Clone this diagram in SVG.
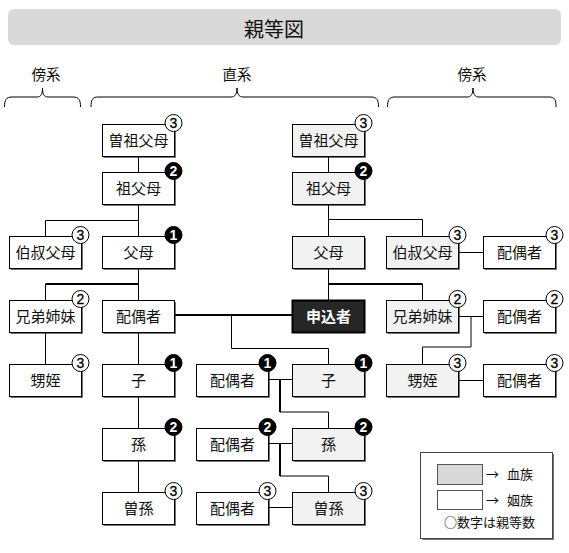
<svg xmlns="http://www.w3.org/2000/svg" width="569" height="553" viewBox="0 0 569 553">
<style>
.box{fill:#fff;stroke:#000;stroke-width:1}
.blood{fill:#f2f2f2}
.self{fill:#262626;stroke:#000;stroke-width:2}
.sh{fill:none;stroke:#000;stroke-width:1;opacity:.55}
.t{font-family:"Noto Sans CJK JP",sans-serif;font-size:15px;text-anchor:middle;fill:#111}
.ts{font-family:"Noto Sans CJK JP",sans-serif;font-size:15px;font-weight:bold;text-anchor:middle;fill:#fff}
.bf{fill:#000;stroke:#000;stroke-width:1}
.bo{fill:#fff;stroke:#000;stroke-width:1}
.nf{font-family:"Liberation Sans",Arial,sans-serif;font-size:14px;font-weight:bold;text-anchor:middle;fill:#fff}
.no{font-family:"Liberation Sans",Arial,sans-serif;font-size:14px;text-anchor:middle;fill:#000;stroke:#000;stroke-width:.3}
.c{fill:none;stroke:#000;stroke-width:1}
.ck{fill:none;stroke:#000;stroke-width:2}
.lbl{font-family:"Noto Sans CJK JP",sans-serif;font-size:14.5px;text-anchor:middle;fill:#111}
.lg{font-family:"Noto Sans CJK JP",sans-serif;font-size:13px;fill:#111}
</style>
<rect x="8" y="9" width="553" height="36" rx="6" fill="#d9d9d9"/>
<text x="274" y="37" font-family="'Noto Sans CJK JP',sans-serif" font-size="20" text-anchor="middle" fill="#111">親等図</text>
<g id="brackets">
<text class="lbl" x="46" y="80">傍系</text>
<text class="lbl" x="237" y="80">直系</text>
<text class="lbl" x="472" y="80">傍系</text>
<path class="c" d="M4.5,107 C4.5,100 6,97 12,97 H37 C41,97 42.5,94 42.5,88 C42.5,94 44,97 48,97 H73 C79,97 80.5,100 80.5,107"/>
<path class="c" d="M91,107 C91,100 92.5,97 98,97 H231 C235,97 237,94 237,88 C237,94 239,97 243,97 H371 C377,97 378.5,100 378.5,107"/>
<path class="c" d="M387.5,107 C387.5,100 389,97 395,97 H467 C471,97 473,94 473,88 C473,94 475,97 479,97 H549 C555,97 556,100 556,107"/>
</g>
<g id="connectors">
<path class="c" d="M138.5,156.5 V172.5 M138.5,204.5 V236.5 M45.5,236.5 V220.5 H138.5 M138.5,268.5 V300.5 M45.5,284 V300.5 M45.5,332.5 V364.5 M138.5,332.5 V364.5 M138.5,396.5 V428.5 M138.5,460.5 V492.5"/>
<path class="ck" d="M45.5,284 H138.5 M174.5,315 H292"/>
<path class="c" d="M231.5,315 V348.5 H328.5 V364.5"/>
<path class="c" d="M328.5,156.5 V172.5 M328.5,204.5 V236.5 M328.5,219.5 H422.5 V236.5 M328.5,268.5 V300.5 M422.5,284 V300.5"/>
<path class="ck" d="M328.5,284 H422.5"/>
<path class="c" d="M458.5,252.5 H483.5 M458.5,316.5 H483.5 M471,316.5 V347 H422.5 V364.5 M458.5,380.5 H483.5"/>
<path class="c" d="M268.5,379.5 H292.5 M280,412 H328.5 V428.5 M268.5,443.5 H292.5 M280,476 H328.5 V492.5 M268.5,507.5 H292.5"/>
<path class="ck" d="M280,379 V412 M280,443 V476"/>
</g>
<g id="n-sosofubo-l"><path class="sh" d="M103.5,157.5 H175.5 V126"/><rect class="box" x="102.5" y="124.5" width="72" height="32"/><text class="t" x="138.5" y="146">曽祖父母</text><circle class="bo" cx="173.5" cy="123" r="8.5"/><text class="no" x="173.5" y="128">3</text></g>
<g id="n-sofubo-l"><path class="sh" d="M103.5,205.5 H175.5 V174"/><rect class="box" x="102.5" y="172.5" width="72" height="32"/><text class="t" x="138.5" y="194">祖父母</text><circle class="bf" cx="173.5" cy="171" r="8.5"/><text class="nf" x="173.5" y="176">2</text></g>
<g id="n-hakushuku-l"><path class="sh" d="M10.5,269.5 H82.5 V238"/><rect class="box" x="9.5" y="236.5" width="72" height="32"/><text class="t" x="45.5" y="258">伯叔父母</text><circle class="bo" cx="80.5" cy="235" r="8.5"/><text class="no" x="80.5" y="240">3</text></g>
<g id="n-fubo-l"><path class="sh" d="M103.5,269.5 H175.5 V238"/><rect class="box" x="102.5" y="236.5" width="72" height="32"/><text class="t" x="138.5" y="258">父母</text><circle class="bf" cx="173.5" cy="235" r="8.5"/><text class="nf" x="173.5" y="240">1</text></g>
<g id="n-kyodai-l"><path class="sh" d="M10.5,333.5 H82.5 V302"/><rect class="box" x="9.5" y="300.5" width="72" height="32"/><text class="t" x="45.5" y="322">兄弟姉妹</text><circle class="bo" cx="80.5" cy="299" r="8.5"/><text class="no" x="80.5" y="304">2</text></g>
<g id="n-haigusha-l"><path class="sh" d="M103.5,333.5 H175.5 V302"/><rect class="box" x="102.5" y="300.5" width="72" height="32"/><text class="t" x="138.5" y="322">配偶者</text></g>
<g id="n-oimei-l"><path class="sh" d="M10.5,397.5 H82.5 V366"/><rect class="box" x="9.5" y="364.5" width="72" height="32"/><text class="t" x="45.5" y="386">甥姪</text><circle class="bo" cx="80.5" cy="363" r="8.5"/><text class="no" x="80.5" y="368">3</text></g>
<g id="n-ko-l"><path class="sh" d="M103.5,397.5 H175.5 V366"/><rect class="box" x="102.5" y="364.5" width="72" height="32"/><text class="t" x="138.5" y="386">子</text><circle class="bf" cx="173.5" cy="363" r="8.5"/><text class="nf" x="173.5" y="368">1</text></g>
<g id="n-mago-l"><path class="sh" d="M103.5,461.5 H175.5 V430"/><rect class="box" x="102.5" y="428.5" width="72" height="32"/><text class="t" x="138.5" y="450">孫</text><circle class="bf" cx="173.5" cy="427" r="8.5"/><text class="nf" x="173.5" y="432">2</text></g>
<g id="n-himago-l"><path class="sh" d="M103.5,525.5 H175.5 V494"/><rect class="box" x="102.5" y="492.5" width="72" height="32"/><text class="t" x="138.5" y="514">曽孫</text><circle class="bo" cx="173.5" cy="491" r="8.5"/><text class="no" x="173.5" y="496">3</text></g>
<g id="n-haigusha-ko"><path class="sh" d="M197.5,397.5 H269.5 V366"/><rect class="box" x="196.5" y="364.5" width="72" height="32"/><text class="t" x="232.5" y="386">配偶者</text><circle class="bf" cx="267.5" cy="363" r="8.5"/><text class="nf" x="267.5" y="368">1</text></g>
<g id="n-haigusha-mago"><path class="sh" d="M197.5,461.5 H269.5 V430"/><rect class="box" x="196.5" y="428.5" width="72" height="32"/><text class="t" x="232.5" y="450">配偶者</text><circle class="bf" cx="267.5" cy="427" r="8.5"/><text class="nf" x="267.5" y="432">2</text></g>
<g id="n-haigusha-himago"><path class="sh" d="M197.5,525.5 H269.5 V494"/><rect class="box" x="196.5" y="492.5" width="72" height="32"/><text class="t" x="232.5" y="514">配偶者</text><circle class="bo" cx="267.5" cy="491" r="8.5"/><text class="no" x="267.5" y="496">3</text></g>
<g id="n-sosofubo-r"><path class="sh" d="M293.5,157.5 H365.5 V126"/><rect class="box blood" x="292.5" y="124.5" width="72" height="32"/><text class="t" x="328.5" y="146">曽祖父母</text><circle class="bo" cx="363.5" cy="123" r="8.5"/><text class="no" x="363.5" y="128">3</text></g>
<g id="n-sofubo-r"><path class="sh" d="M293.5,205.5 H365.5 V174"/><rect class="box blood" x="292.5" y="172.5" width="72" height="32"/><text class="t" x="328.5" y="194">祖父母</text><circle class="bf" cx="363.5" cy="171" r="8.5"/><text class="nf" x="363.5" y="176">2</text></g>
<g id="n-fubo-r"><path class="sh" d="M293.5,269.5 H365.5 V238"/><rect class="box blood" x="292.5" y="236.5" width="72" height="32"/><text class="t" x="328.5" y="258">父母</text></g>
<g id="n-self"><rect class="self" x="292.5" y="300.5" width="72" height="32"/><text class="ts" x="328.5" y="322">申込者</text></g>
<g id="n-ko-r"><path class="sh" d="M293.5,397.5 H365.5 V366"/><rect class="box blood" x="292.5" y="364.5" width="72" height="32"/><text class="t" x="328.5" y="386">子</text><circle class="bf" cx="363.5" cy="363" r="8.5"/><text class="nf" x="363.5" y="368">1</text></g>
<g id="n-mago-r"><path class="sh" d="M293.5,461.5 H365.5 V430"/><rect class="box blood" x="292.5" y="428.5" width="72" height="32"/><text class="t" x="328.5" y="450">孫</text><circle class="bf" cx="363.5" cy="427" r="8.5"/><text class="nf" x="363.5" y="432">2</text></g>
<g id="n-himago-r"><path class="sh" d="M293.5,525.5 H365.5 V494"/><rect class="box blood" x="292.5" y="492.5" width="72" height="32"/><text class="t" x="328.5" y="514">曽孫</text><circle class="bo" cx="363.5" cy="491" r="8.5"/><text class="no" x="363.5" y="496">3</text></g>
<g id="n-hakushuku-r"><path class="sh" d="M387.5,269.5 H459.5 V238"/><rect class="box blood" x="386.5" y="236.5" width="72" height="32"/><text class="t" x="422.5" y="258">伯叔父母</text><circle class="bo" cx="457.5" cy="235" r="8.5"/><text class="no" x="457.5" y="240">3</text></g>
<g id="n-kyodai-r"><path class="sh" d="M387.5,333.5 H459.5 V302"/><rect class="box blood" x="386.5" y="300.5" width="72" height="32"/><text class="t" x="422.5" y="322">兄弟姉妹</text><circle class="bo" cx="457.5" cy="299" r="8.5"/><text class="no" x="457.5" y="304">2</text></g>
<g id="n-oimei-r"><path class="sh" d="M387.5,397.5 H459.5 V366"/><rect class="box blood" x="386.5" y="364.5" width="72" height="32"/><text class="t" x="422.5" y="386">甥姪</text><circle class="bo" cx="457.5" cy="363" r="8.5"/><text class="no" x="457.5" y="368">3</text></g>
<g id="n-haigusha-haku"><path class="sh" d="M484.5,269.5 H556.5 V238"/><rect class="box" x="483.5" y="236.5" width="72" height="32"/><text class="t" x="519.5" y="258">配偶者</text><circle class="bo" cx="554.5" cy="235" r="8.5"/><text class="no" x="554.5" y="240">3</text></g>
<g id="n-haigusha-kyodai"><path class="sh" d="M484.5,333.5 H556.5 V302"/><rect class="box" x="483.5" y="300.5" width="72" height="32"/><text class="t" x="519.5" y="322">配偶者</text><circle class="bo" cx="554.5" cy="299" r="8.5"/><text class="no" x="554.5" y="304">2</text></g>
<g id="n-haigusha-oimei"><path class="sh" d="M484.5,397.5 H556.5 V366"/><rect class="box" x="483.5" y="364.5" width="72" height="32"/><text class="t" x="519.5" y="386">配偶者</text><circle class="bo" cx="554.5" cy="363" r="8.5"/><text class="no" x="554.5" y="368">3</text></g>
<g id="legend">
<path class="sh" d="M422.5,539.5 H553.5 V454"/>
<rect x="420.5" y="452.5" width="132" height="86" fill="#fff" stroke="#444" stroke-width="1"/>
<rect x="437.5" y="464.5" width="45" height="20" fill="#d9d9d9" stroke="#555" stroke-width="1"/>
<rect x="437.5" y="490.5" width="45" height="19" fill="#fff" stroke="#555" stroke-width="1"/>
<text class="lg" x="486" y="479">→</text>
<text class="lg" x="507" y="479">血族</text>
<text class="lg" x="486" y="505">→</text>
<text class="lg" x="507" y="505">姻族</text>
<text class="lg" x="444" y="526.5">○数字は親等数</text>
</g>
</svg>
